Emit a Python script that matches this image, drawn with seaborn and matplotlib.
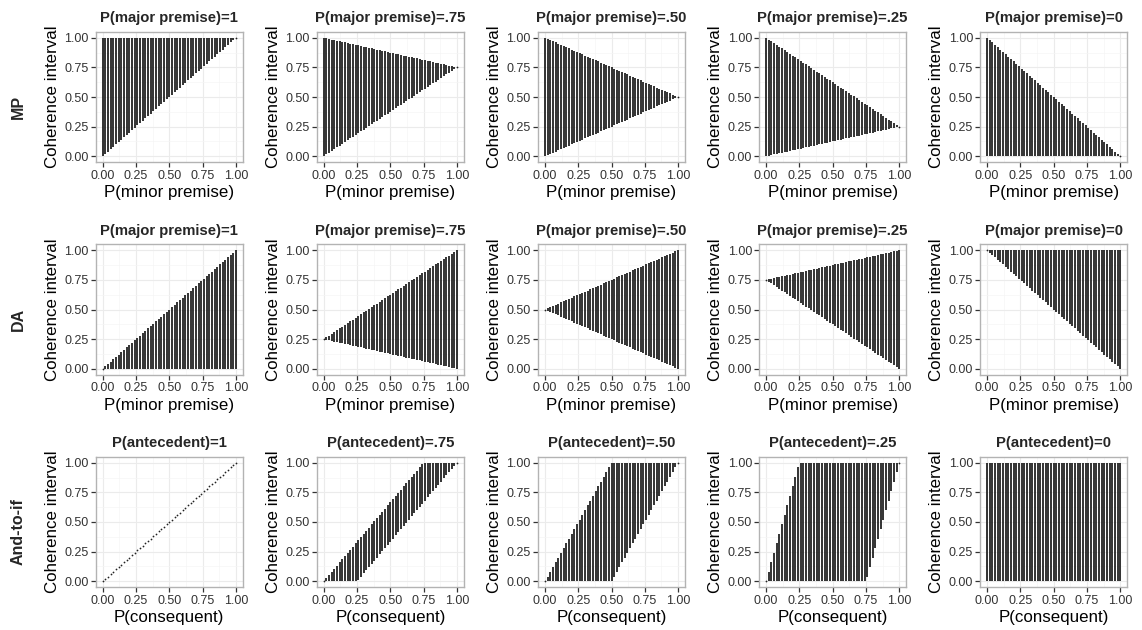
import pandas as pd
import seaborn as sns
import matplotlib.pyplot as plt

# x grid: P(minor premise) / P(consequent)
x_vals = [0.00, 0.02, 0.04, 0.06, 0.08, 0.10, 0.12, 0.14, 0.16, 0.18,
          0.20, 0.22, 0.24, 0.26, 0.28, 0.30, 0.32, 0.34, 0.36, 0.38,
          0.40, 0.42, 0.44, 0.46, 0.48, 0.50, 0.52, 0.54, 0.56, 0.58,
          0.60, 0.62, 0.64, 0.66, 0.68, 0.70, 0.72, 0.74, 0.76, 0.78,
          0.80, 0.82, 0.84, 0.86, 0.88, 0.90, 0.92, 0.94, 0.96, 0.98, 1.00]

ones = [1, 1, 1, 1, 1, 1, 1, 1, 1, 1,
        1, 1, 1, 1, 1, 1, 1, 1, 1, 1,
        1, 1, 1, 1, 1, 1, 1, 1, 1, 1,
        1, 1, 1, 1, 1, 1, 1, 1, 1, 1,
        1, 1, 1, 1, 1, 1, 1, 1, 1, 1, 1]

zeros = [0, 0, 0, 0, 0, 0, 0, 0, 0, 0,
         0, 0, 0, 0, 0, 0, 0, 0, 0, 0,
         0, 0, 0, 0, 0, 0, 0, 0, 0, 0,
         0, 0, 0, 0, 0, 0, 0, 0, 0, 0,
         0, 0, 0, 0, 0, 0, 0, 0, 0, 0, 0]

down_1 = [1.00, 0.98, 0.96, 0.94, 0.92, 0.90, 0.88, 0.86, 0.84, 0.82,
          0.80, 0.78, 0.76, 0.74, 0.72, 0.70, 0.68, 0.66, 0.64, 0.62,
          0.60, 0.58, 0.56, 0.54, 0.52, 0.50, 0.48, 0.46, 0.44, 0.42,
          0.40, 0.38, 0.36, 0.34, 0.32, 0.30, 0.28, 0.26, 0.24, 0.22,
          0.20, 0.18, 0.16, 0.14, 0.12, 0.10, 0.08, 0.06, 0.04, 0.02, 0.00]

# ---- MP row: P(major premise) = 1, .75, .50, .25, 0
mp_lo_75 = [0.000, 0.015, 0.030, 0.045, 0.060, 0.075, 0.090, 0.105, 0.120, 0.135,
            0.150, 0.165, 0.180, 0.195, 0.210, 0.225, 0.240, 0.255, 0.270, 0.285,
            0.300, 0.315, 0.330, 0.345, 0.360, 0.375, 0.390, 0.405, 0.420, 0.435,
            0.450, 0.465, 0.480, 0.495, 0.510, 0.525, 0.540, 0.555, 0.570, 0.585,
            0.600, 0.615, 0.630, 0.645, 0.660, 0.675, 0.690, 0.705, 0.720, 0.735, 0.750]
mp_hi_75 = [1.000, 0.995, 0.990, 0.985, 0.980, 0.975, 0.970, 0.965, 0.960, 0.955,
            0.950, 0.945, 0.940, 0.935, 0.930, 0.925, 0.920, 0.915, 0.910, 0.905,
            0.900, 0.895, 0.890, 0.885, 0.880, 0.875, 0.870, 0.865, 0.860, 0.855,
            0.850, 0.845, 0.840, 0.835, 0.830, 0.825, 0.820, 0.815, 0.810, 0.805,
            0.800, 0.795, 0.790, 0.785, 0.780, 0.775, 0.770, 0.765, 0.760, 0.755, 0.750]
mp_lo_50 = [0.00, 0.01, 0.02, 0.03, 0.04, 0.05, 0.06, 0.07, 0.08, 0.09,
            0.10, 0.11, 0.12, 0.13, 0.14, 0.15, 0.16, 0.17, 0.18, 0.19,
            0.20, 0.21, 0.22, 0.23, 0.24, 0.25, 0.26, 0.27, 0.28, 0.29,
            0.30, 0.31, 0.32, 0.33, 0.34, 0.35, 0.36, 0.37, 0.38, 0.39,
            0.40, 0.41, 0.42, 0.43, 0.44, 0.45, 0.46, 0.47, 0.48, 0.49, 0.50]
mp_hi_50 = [1.00, 0.99, 0.98, 0.97, 0.96, 0.95, 0.94, 0.93, 0.92, 0.91,
            0.90, 0.89, 0.88, 0.87, 0.86, 0.85, 0.84, 0.83, 0.82, 0.81,
            0.80, 0.79, 0.78, 0.77, 0.76, 0.75, 0.74, 0.73, 0.72, 0.71,
            0.70, 0.69, 0.68, 0.67, 0.66, 0.65, 0.64, 0.63, 0.62, 0.61,
            0.60, 0.59, 0.58, 0.57, 0.56, 0.55, 0.54, 0.53, 0.52, 0.51, 0.50]
mp_lo_25 = [0.000, 0.005, 0.010, 0.015, 0.020, 0.025, 0.030, 0.035, 0.040, 0.045,
            0.050, 0.055, 0.060, 0.065, 0.070, 0.075, 0.080, 0.085, 0.090, 0.095,
            0.100, 0.105, 0.110, 0.115, 0.120, 0.125, 0.130, 0.135, 0.140, 0.145,
            0.150, 0.155, 0.160, 0.165, 0.170, 0.175, 0.180, 0.185, 0.190, 0.195,
            0.200, 0.205, 0.210, 0.215, 0.220, 0.225, 0.230, 0.235, 0.240, 0.245, 0.250]
mp_hi_25 = [1.000, 0.985, 0.970, 0.955, 0.940, 0.925, 0.910, 0.895, 0.880, 0.865,
            0.850, 0.835, 0.820, 0.805, 0.790, 0.775, 0.760, 0.745, 0.730, 0.715,
            0.700, 0.685, 0.670, 0.655, 0.640, 0.625, 0.610, 0.595, 0.580, 0.565,
            0.550, 0.535, 0.520, 0.505, 0.490, 0.475, 0.460, 0.445, 0.430, 0.415,
            0.400, 0.385, 0.370, 0.355, 0.340, 0.325, 0.310, 0.295, 0.280, 0.265, 0.250]

# ---- DA row
da_lo_75 = [0.250, 0.245, 0.240, 0.235, 0.230, 0.225, 0.220, 0.215, 0.210, 0.205,
            0.200, 0.195, 0.190, 0.185, 0.180, 0.175, 0.170, 0.165, 0.160, 0.155,
            0.150, 0.145, 0.140, 0.135, 0.130, 0.125, 0.120, 0.115, 0.110, 0.105,
            0.100, 0.095, 0.090, 0.085, 0.080, 0.075, 0.070, 0.065, 0.060, 0.055,
            0.050, 0.045, 0.040, 0.035, 0.030, 0.025, 0.020, 0.015, 0.010, 0.005, 0.000]
da_hi_75 = [0.250, 0.265, 0.280, 0.295, 0.310, 0.325, 0.340, 0.355, 0.370, 0.385,
            0.400, 0.415, 0.430, 0.445, 0.460, 0.475, 0.490, 0.505, 0.520, 0.535,
            0.550, 0.565, 0.580, 0.595, 0.610, 0.625, 0.640, 0.655, 0.670, 0.685,
            0.700, 0.715, 0.730, 0.745, 0.760, 0.775, 0.790, 0.805, 0.820, 0.835,
            0.850, 0.865, 0.880, 0.895, 0.910, 0.925, 0.940, 0.955, 0.970, 0.985, 1.000]
da_lo_50 = [0.50, 0.49, 0.48, 0.47, 0.46, 0.45, 0.44, 0.43, 0.42, 0.41,
            0.40, 0.39, 0.38, 0.37, 0.36, 0.35, 0.34, 0.33, 0.32, 0.31,
            0.30, 0.29, 0.28, 0.27, 0.26, 0.25, 0.24, 0.23, 0.22, 0.21,
            0.20, 0.19, 0.18, 0.17, 0.16, 0.15, 0.14, 0.13, 0.12, 0.11,
            0.10, 0.09, 0.08, 0.07, 0.06, 0.05, 0.04, 0.03, 0.02, 0.01, 0.00]
da_hi_50 = [0.50, 0.51, 0.52, 0.53, 0.54, 0.55, 0.56, 0.57, 0.58, 0.59,
            0.60, 0.61, 0.62, 0.63, 0.64, 0.65, 0.66, 0.67, 0.68, 0.69,
            0.70, 0.71, 0.72, 0.73, 0.74, 0.75, 0.76, 0.77, 0.78, 0.79,
            0.80, 0.81, 0.82, 0.83, 0.84, 0.85, 0.86, 0.87, 0.88, 0.89,
            0.90, 0.91, 0.92, 0.93, 0.94, 0.95, 0.96, 0.97, 0.98, 0.99, 1.00]
da_lo_25 = [0.750, 0.735, 0.720, 0.705, 0.690, 0.675, 0.660, 0.645, 0.630, 0.615,
            0.600, 0.585, 0.570, 0.555, 0.540, 0.525, 0.510, 0.495, 0.480, 0.465,
            0.450, 0.435, 0.420, 0.405, 0.390, 0.375, 0.360, 0.345, 0.330, 0.315,
            0.300, 0.285, 0.270, 0.255, 0.240, 0.225, 0.210, 0.195, 0.180, 0.165,
            0.150, 0.135, 0.120, 0.105, 0.090, 0.075, 0.060, 0.045, 0.030, 0.015, 0.000]
da_hi_25 = [0.750, 0.755, 0.760, 0.765, 0.770, 0.775, 0.780, 0.785, 0.790, 0.795,
            0.800, 0.805, 0.810, 0.815, 0.820, 0.825, 0.830, 0.835, 0.840, 0.845,
            0.850, 0.855, 0.860, 0.865, 0.870, 0.875, 0.880, 0.885, 0.890, 0.895,
            0.900, 0.905, 0.910, 0.915, 0.920, 0.925, 0.930, 0.935, 0.940, 0.945,
            0.950, 0.955, 0.960, 0.965, 0.970, 0.975, 0.980, 0.985, 0.990, 0.995, 1.000]

# ---- And-to-if row: P(antecedent) = 1, .75, .50, .25, 0
ati_lo_75 = [0, 0, 0, 0, 0, 0, 0, 0, 0, 0,
             0, 0, 0, 0.013, 0.040, 0.067, 0.093, 0.120, 0.147, 0.173,
             0.200, 0.227, 0.253, 0.280, 0.307, 0.333, 0.360, 0.387, 0.413, 0.440,
             0.467, 0.493, 0.520, 0.547, 0.573, 0.600, 0.627, 0.653, 0.680, 0.707,
             0.733, 0.760, 0.787, 0.813, 0.840, 0.867, 0.893, 0.920, 0.947, 0.973, 1.000]
ati_hi_75 = [0.000, 0.027, 0.053, 0.080, 0.107, 0.133, 0.160, 0.187, 0.213, 0.240,
             0.267, 0.293, 0.320, 0.347, 0.373, 0.400, 0.427, 0.453, 0.480, 0.507,
             0.533, 0.560, 0.587, 0.613, 0.640, 0.667, 0.693, 0.720, 0.747, 0.773,
             0.800, 0.827, 0.853, 0.880, 0.907, 0.933, 0.960, 0.987, 1, 1,
             1, 1, 1, 1, 1, 1, 1, 1, 1, 1, 1]
ati_lo_50 = [0, 0, 0, 0, 0, 0, 0, 0, 0, 0,
             0, 0, 0, 0, 0, 0, 0, 0, 0, 0,
             0, 0, 0, 0, 0, 0, 0.04, 0.08, 0.12, 0.16,
             0.20, 0.24, 0.28, 0.32, 0.36, 0.40, 0.44, 0.48, 0.52, 0.56,
             0.60, 0.64, 0.68, 0.72, 0.76, 0.80, 0.84, 0.88, 0.92, 0.96, 1.00]
ati_hi_50 = [0.00, 0.04, 0.08, 0.12, 0.16, 0.20, 0.24, 0.28, 0.32, 0.36,
             0.40, 0.44, 0.48, 0.52, 0.56, 0.60, 0.64, 0.68, 0.72, 0.76,
             0.80, 0.84, 0.88, 0.92, 0.96, 1, 1, 1, 1, 1,
             1, 1, 1, 1, 1, 1, 1, 1, 1, 1,
             1, 1, 1, 1, 1, 1, 1, 1, 1, 1, 1]
ati_lo_25 = [0, 0, 0, 0, 0, 0, 0, 0, 0, 0,
             0, 0, 0, 0, 0, 0, 0, 0, 0, 0,
             0, 0, 0, 0, 0, 0, 0, 0, 0, 0,
             0, 0, 0, 0, 0, 0, 0, 0, 0.04, 0.12,
             0.20, 0.28, 0.36, 0.44, 0.52, 0.60, 0.68, 0.76, 0.84, 0.92, 1.00]
ati_hi_25 = [0.00, 0.08, 0.16, 0.24, 0.32, 0.40, 0.48, 0.56, 0.64, 0.72,
             0.80, 0.88, 0.96, 1, 1, 1, 1, 1, 1, 1,
             1, 1, 1, 1, 1, 1, 1, 1, 1, 1,
             1, 1, 1, 1, 1, 1, 1, 1, 1, 1,
             1, 1, 1, 1, 1, 1, 1, 1, 1, 1, 1]

row_names = ['MP', 'DA', 'And-to-if']
row_xlabels = ['P(minor premise)', 'P(minor premise)', 'P(consequent)']
level_names = ['1', '.75', '.50', '.25', '0']
title_prefix = ['P(major premise)=', 'P(major premise)=', 'P(antecedent)=']

lows = [[x_vals, mp_lo_75, mp_lo_50, mp_lo_25, zeros],
        [zeros, da_lo_75, da_lo_50, da_lo_25, down_1],
        [x_vals, ati_lo_75, ati_lo_50, ati_lo_25, zeros]]
highs = [[ones, mp_hi_75, mp_hi_50, mp_hi_25, down_1],
         [x_vals, da_hi_75, da_hi_50, da_hi_25, ones],
         [x_vals, ati_hi_75, ati_hi_50, ati_hi_25, ones]]

sns.set_theme(style='white')
plt.rcParams['font.family'] = ['Liberation Sans', 'DejaVu Sans']
plt.rcParams['lines.solid_capstyle'] = 'butt'

W, H = 1142, 630
fig = plt.figure(figsize=(W / 100, H / 100), dpi=100)

ticks = [0, 0.25, 0.5, 0.75, 1]
tick_labels = ['0.00', '0.25', '0.50', '0.75', '1.00']
minor = [0.125, 0.375, 0.625, 0.875]


def draw_panel(ax, lo, hi, title, xlabel):
    n = len(x_vals)
    bars = pd.DataFrame({'x': x_vals + x_vals, 'y': lo + hi,
                         'bar': list(range(n)) + list(range(n))})
    sns.lineplot(data=bars, x='x', y='y', units='bar', estimator=None,
                 color='#111111', lw=1.2, ax=ax, legend=False)
    # zero-width intervals show up as dots
    pts = pd.DataFrame({'x': x_vals, 'lo': lo, 'hi': hi})
    pts = pts[pts['lo'] == pts['hi']]
    if len(pts):
        sns.scatterplot(data=pts, x='x', y='lo', color='#222222', s=1.6,
                        linewidth=0, ax=ax, legend=False)

    ax.set_xlim(-0.05, 1.05)
    ax.set_ylim(-0.05, 1.05)
    ax.set_xticks(ticks)
    ax.set_xticklabels(tick_labels)
    ax.set_yticks(ticks)
    ax.set_yticklabels(tick_labels)
    ax.set_xticks(minor, minor=True)
    ax.set_yticks(minor, minor=True)
    ax.grid(which='major', color='#ebebeb', lw=0.8)
    ax.grid(which='minor', color='#f5f5f5', lw=0.5)
    ax.set_axisbelow(True)
    ax.tick_params(which='major', length=3.5, width=0.9, color='#333333',
                   labelsize=9, labelcolor='#333333', pad=1.8,
                   bottom=True, left=True)
    ax.tick_params(which='minor', length=0)
    for sp in ax.spines.values():
        sp.set_color('#b3b3b3')
        sp.set_linewidth(1.0)
    ax.set_title(title, fontsize=10.7, fontweight='bold', pad=7)
    ax.set_xlabel(xlabel, fontsize=12.2, labelpad=2.5, color='black')
    ax.set_ylabel('Coherence interval', fontsize=12.2, labelpad=3, color='black')


for i in range(3):
    top = 31.8 + 212.5 * i
    for j in range(5):
        left = 96 + 221.1 * j
        ax = fig.add_axes([left / W, 1 - (top + 130.4) / H, 146.6 / W, 130.4 / H])
        draw_panel(ax, lows[i][j], highs[i][j],
                   title_prefix[i] + level_names[j], row_xlabels[i])
    fig.text(18.3 / W, 1 - (top + 75) / H, row_names[i], rotation=90,
             fontsize=11.5, fontweight='bold', ha='center', va='center')

fig.savefig('out.png', dpi=100)
